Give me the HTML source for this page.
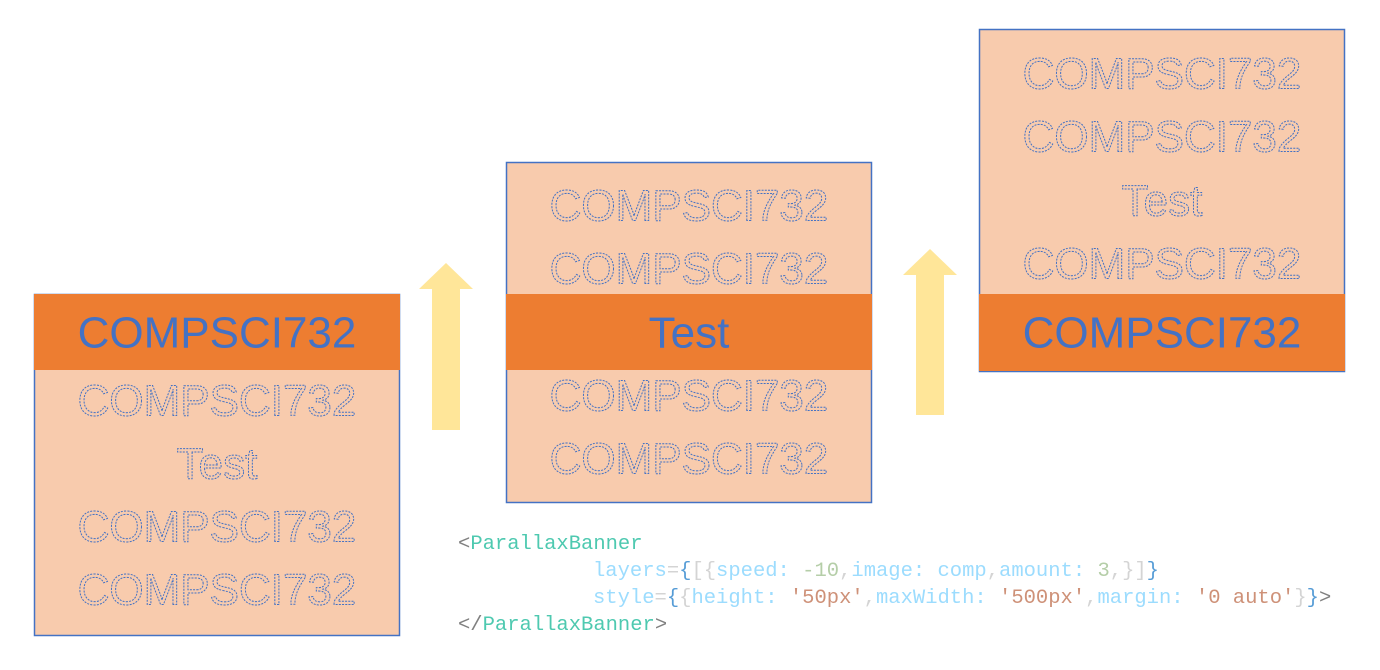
<!DOCTYPE html>
<html><head><meta charset="utf-8"><style>
html,body{margin:0;padding:0;background:#fff;width:1380px;height:670px;overflow:hidden}
.o{fill:none;stroke:#4472c4;stroke-width:1;stroke-dasharray:2 1.2}
.s{fill:#4472c4}
text{font-family:"Liberation Sans",sans-serif;font-size:44px;text-anchor:middle;dominant-baseline:central}
.c{font-family:"Liberation Mono",monospace;font-size:20.5px;text-anchor:start;dominant-baseline:auto}
</style></head><body>
<svg width="1380" height="670" viewBox="0 0 1380 670" xmlns="http://www.w3.org/2000/svg">
<!-- box 1 -->
<rect x="34.5" y="294.5" width="365" height="341" fill="#f8cbad" stroke="#4472c4" stroke-width="1.5"/>
<rect x="34" y="294" width="366" height="76" fill="#ed7d31"/>
<text x="217" y="333" class="s">COMPSCI732</text>
<text x="217" y="401" class="o">COMPSCI732</text>
<text x="217" y="464" class="o">Test</text>
<text x="217" y="527" class="o">COMPSCI732</text>
<text x="217" y="590" class="o">COMPSCI732</text>
<!-- box 2 -->
<rect x="506.5" y="162.5" width="365" height="340" fill="#f8cbad" stroke="#4472c4" stroke-width="1.5"/>
<rect x="506" y="294" width="366" height="76" fill="#ed7d31"/>
<text x="689" y="206" class="o">COMPSCI732</text>
<text x="689" y="269" class="o">COMPSCI732</text>
<text x="689" y="333" class="s">Test</text>
<text x="689" y="396" class="o">COMPSCI732</text>
<text x="689" y="459" class="o">COMPSCI732</text>
<!-- box 3 -->
<rect x="979.5" y="29.5" width="365" height="342" fill="#f8cbad" stroke="#4472c4" stroke-width="1.5"/>
<rect x="979" y="294" width="366" height="77" fill="#ed7d31"/>
<text x="1162" y="74" class="o">COMPSCI732</text>
<text x="1162" y="137" class="o">COMPSCI732</text>
<text x="1162" y="201" class="o">Test</text>
<text x="1162" y="264" class="o">COMPSCI732</text>
<text x="1162" y="333" class="s">COMPSCI732</text>
<!-- arrows -->
<polygon points="446,263 473,289 460,289 460,430 432,430 432,289 419,289" fill="#ffe699"/>
<polygon points="930,249 957,275 944,275 944,415 916,415 916,275 903,275" fill="#ffe699"/>
<!-- code -->
<text class="c" x="458" y="549"><tspan fill="#808080">&lt;</tspan><tspan fill="#4ec9b0">ParallaxBanner</tspan></text>
<text class="c" x="593" y="576"><tspan fill="#9cdcfe">layers</tspan><tspan fill="#d4d4d4">=</tspan><tspan fill="#569cd6">{</tspan><tspan fill="#d4d4d4">[{</tspan><tspan fill="#9cdcfe">speed: </tspan><tspan fill="#b5cea8">-10</tspan><tspan fill="#d4d4d4">,</tspan><tspan fill="#9cdcfe">image: comp</tspan><tspan fill="#d4d4d4">,</tspan><tspan fill="#9cdcfe">amount: </tspan><tspan fill="#b5cea8">3</tspan><tspan fill="#d4d4d4">,}]</tspan><tspan fill="#569cd6">}</tspan></text>
<text class="c" x="593" y="603"><tspan fill="#9cdcfe">style</tspan><tspan fill="#d4d4d4">=</tspan><tspan fill="#569cd6">{</tspan><tspan fill="#d4d4d4">{</tspan><tspan fill="#9cdcfe">height: </tspan><tspan fill="#ce9178">'50px'</tspan><tspan fill="#d4d4d4">,</tspan><tspan fill="#9cdcfe">maxWidth: </tspan><tspan fill="#ce9178">'500px'</tspan><tspan fill="#d4d4d4">,</tspan><tspan fill="#9cdcfe">margin: </tspan><tspan fill="#ce9178">'0 auto'</tspan><tspan fill="#d4d4d4">}</tspan><tspan fill="#569cd6">}</tspan><tspan fill="#808080">&gt;</tspan></text>
<text class="c" x="458" y="630"><tspan fill="#808080">&lt;/</tspan><tspan fill="#4ec9b0">ParallaxBanner</tspan><tspan fill="#808080">&gt;</tspan></text>
</svg>
</body></html>
